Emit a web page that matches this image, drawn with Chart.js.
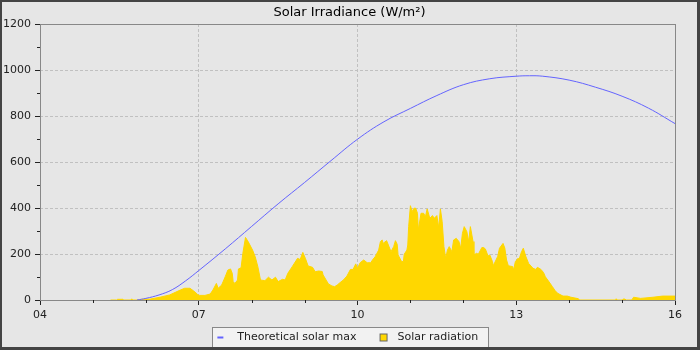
<!DOCTYPE html>
<html>
<head>
<meta charset="utf-8">
<title>Solar Irradiance</title>
<script src="https://cdn.jsdelivr.net/npm/chart.js@4.4.1/dist/chart.umd.min.js"></script>
<style>
  html, body { margin: 0; padding: 0; background: #444; }
  #frame {
    width: 700px; height: 350px; box-sizing: border-box;
    border: solid #444; border-width: 2px 3px 3px 2px;
    background: #e6e6e6;
  }
  canvas { display: block; }
</style>
</head>
<body>
<div id="frame"><canvas id="solarChart" width="695" height="345"></canvas></div>
<script>
// measured solar radiation (W/m²)
const radiationTimes = [
  '05:20','05:27','05:28','05:34','05:35','05:43','05:44','05:45','05:52','05:55',
  '06:05','06:16','06:27','06:39','06:44','06:50','06:54','06:57','06:59','07:01',
  '07:07','07:13','07:16','07:20','07:22','07:26','07:30','07:33','07:36','07:38',
  '07:39','07:41','07:44','07:45','07:48','07:50','07:53','07:55','07:56','08:01',
  '08:04','08:07','08:10','08:15','08:19','08:23','08:27','08:30','08:35','08:38',
  '08:41','08:46','08:52','08:55','08:58','09:01','09:04','09:09','09:12','09:16',
  '09:20','09:21','09:25','09:27','09:31','09:34','09:37','09:41','09:44','09:48',
  '09:52','09:55','09:58','10:00','10:03','10:07','10:11','10:15','10:17','10:20',
  '10:24','10:26','10:28','10:29','10:33','10:35','10:38','10:41','10:43','10:45',
  '10:46','10:50','10:52','10:53','10:56','10:57','10:58','11:00','11:02','11:04',
  '11:06','11:08','11:09','11:12','11:15','11:17','11:19','11:22','11:25','11:27',
  '11:30','11:32','11:34','11:36','11:38','11:40','11:42','11:44','11:47','11:49',
  '11:52','11:55','11:57','11:59','12:01','12:04','12:06','12:08','12:11','12:12',
  '12:15','12:17','12:21','12:23','12:25','12:28','12:30','12:33','12:34','12:39',
  '12:41','12:45','12:47','12:49','12:51','12:56','12:57','12:59','13:02','13:03',
  '13:06','13:08','13:11','13:14','13:19','13:22','13:24','13:28','13:31','13:33',
  '13:37','13:41','13:44','13:47','13:53','13:58','14:02','14:10','14:12','14:52',
  '14:53','14:55','15:00','15:01','15:03','15:05','15:11','15:13','15:21','15:35',
  '15:46','16:00'
];
const radiationValues = [
  0, 0, 3, 3, 0, 0, 5, 0, 0, 3,
  4, 12, 22, 43, 51, 51, 40, 30, 23, 20,
  20, 26, 43, 72, 51, 65, 101, 130, 135, 116,
  80, 72, 87, 135, 140, 203, 272, 260, 254, 217,
  188, 145, 87, 84, 99, 87, 99, 80, 90, 87,
  116, 145, 181, 176, 207, 180, 148, 142, 123, 126,
  124, 109, 83, 70, 61, 58, 65, 78, 87, 104,
  133, 133, 157, 138, 162, 174, 162, 162, 174, 188,
  217, 254, 261, 246, 258, 239, 210, 232, 258, 242,
  196, 167, 167, 199, 217, 239, 319, 410, 384, 399,
  399, 377, 304, 377, 377, 362, 396, 355, 367, 355,
  367, 314, 396, 341, 232, 181, 217, 232, 210, 261,
  268, 254, 225, 290, 319, 297, 254, 319, 254, 196,
  203, 199, 228, 228, 222, 191, 196, 167, 149, 190,
  225, 246, 226, 174, 149, 145, 130, 167, 181, 174,
  210, 225, 188, 159, 138, 133, 142, 133, 119, 101,
  80, 58, 41, 29, 17, 17, 12, 6, 0, 0,
  5, 0, 0, 4, 4, 0, 0, 12, 7, 12,
  17, 17
];

// theoretical clear-sky maximum (W/m²)
const theoryTimes = [
  '05:50','06:00','06:15','06:30','06:45','07:00','07:30','08:00','08:30','09:00',
  '09:30','10:00','10:30','11:00','11:30','12:00','12:30','13:00','13:15','13:30',
  '14:00','14:30','15:00','15:30','16:00'
];
const theoryValues = [
  0, 7, 22, 45, 83, 128, 222, 320, 418, 511,
  606, 699, 775, 833, 889, 936, 962, 973, 975, 973,
  956, 925, 886, 834, 767
];

const hourLabels = ['04', '07', '10', '13', '16'];

const toHours = t => {
  const [h, m] = t.split(':').map(Number);
  return h + m / 60;
};
const pad2 = v => (v < 10 ? '0' : '') + v;
const isMajorHour = v => hourLabels.includes(pad2(v));

const radiationPoints = radiationTimes.map((t, i) => ({ x: toHours(t), y: radiationValues[i] }));
const theoryPoints = theoryTimes.map((t, i) => ({ x: toHours(t), y: theoryValues[i] }));

// legend layout
const legendPadding = 10.5;
const legendBox = 25;

// small canvases used as legend symbols (drawn centred on the legend box)
function makeIcon(draw) {
  const c = document.createElement('canvas');
  c.width = 20;
  c.height = 12;
  draw(c.getContext('2d'));
  return c;
}
const lineIcon = makeIcon(g => {
  g.fillStyle = '#6464ff';
  g.fillRect(8, 5, 6, 2);
});
const boxIcon = makeIcon(g => {
  g.fillStyle = '#ffd700';
  g.fillRect(10, 2, 8, 8);
  g.strokeStyle = '#666';
  g.lineWidth = 1;
  g.strokeRect(10.5, 2.5, 7, 7);
});
const legendIcons = [lineIcon, boxIcon];

const framePlugin = {
  id: 'frame',
  afterLayout(chart) {
    // title is centred on the whole canvas, not on the padded width
    const t = chart.titleBlock;
    if (t) {
      t.left = 0;
      t.right = chart.width;
      t.width = chart.width;
    }
  },
  beforeDraw(chart) {
    const { ctx, width, height } = chart;
    ctx.save();
    ctx.fillStyle = '#e6e6e6';
    ctx.fillRect(0, 0, width, height);
    // legend box
    const boxes = chart.legend && chart.legend.legendHitBoxes;
    if (boxes && boxes.length) {
      const first = boxes[0], last = boxes[boxes.length - 1];
      const cy = first.top + 5.5;
      const x1 = Math.round(first.left + legendBox + 5.5 - 25) + 0.5;
      const x2 = Math.round(last.left + last.width + 10) + 0.5;
      const y1 = Math.round(cy - 10.5) + 0.5;
      const y2 = height + 2;
      ctx.fillStyle = '#f2f2f2';
      ctx.fillRect(x1, y1, x2 - x1, y2 - y1);
      ctx.strokeStyle = '#888';
      ctx.lineWidth = 1;
      ctx.strokeRect(x1, y1, x2 - x1, y2 - y1);
    }
    ctx.restore();
  },
  afterDatasetsDraw(chart) {
    const { ctx, chartArea: a } = chart;
    ctx.save();
    ctx.strokeStyle = '#888';
    ctx.lineWidth = 1;
    ctx.strokeRect(Math.round(a.left) + 0.5, Math.round(a.top) + 0.5,
      Math.round(a.right - a.left), Math.round(a.bottom - a.top));
    ctx.restore();
  },
  afterDraw(chart) {
    // minor tick marks
    const { ctx, chartArea: a, scales } = chart;
    ctx.save();
    ctx.strokeStyle = '#222';
    ctx.lineWidth = 1;
    ctx.beginPath();
    for (let h = 4; h <= 16; h++) {
      if (isMajorHour(h)) continue;
      const x = Math.round(scales.x.getPixelForValue(h)) + 0.5;
      ctx.moveTo(x, a.bottom);
      ctx.lineTo(x, a.bottom + 3);
    }
    for (let v = 100; v < 1200; v += 200) {
      const y = Math.round(scales.y.getPixelForValue(v)) + 0.5;
      ctx.moveTo(a.left - 3, y);
      ctx.lineTo(a.left, y);
    }
    ctx.stroke();
    ctx.restore();
  }
};

Chart.defaults.font.family = 'DejaVu Sans';
Chart.defaults.font.size = 11;
Chart.defaults.color = '#222';

const ctx = document.getElementById('solarChart').getContext('2d');
const solarChart = new Chart(ctx, {
  type: 'line',
  data: {
    datasets: [{
      label: 'Theoretical solar max',
      data: theoryPoints,
      borderColor: '#6464ff',
      borderWidth: 1,
      pointRadius: 0,
      fill: false,
      tension: 0.4,
      order: 0
    }, {
      label: 'Solar radiation',
      data: radiationPoints,
      borderColor: '#ffd700',
      backgroundColor: '#ffd700',
      borderWidth: 1,
      pointRadius: 0,
      fill: 'origin',
      tension: 0,
      order: 1
    }]
  },
  options: {
    responsive: false,
    devicePixelRatio: 1,
    animation: false,
    layout: { padding: { left: 0, right: 14, top: 0, bottom: -6 } },
    scales: {
      x: {
        type: 'linear',
        min: 4,
        max: 16,
        // keep plot bottom fixed whatever the legend height
        afterFit: s => { s.height = 32 - legendPadding; },
        ticks: {
          stepSize: 1,
          autoSkip: false,
          maxRotation: 0,
          padding: 4,
          callback: v => (isMajorHour(v) ? pad2(v) : '')
        },
        grid: {
          tickLength: 5,
          color: c => (c.tick && isMajorHour(c.tick.value) && c.tick.value !== 4 && c.tick.value !== 16
            ? '#c0c0c0' : 'rgba(0,0,0,0)'),
          tickColor: c => (c.tick && isMajorHour(c.tick.value) ? '#222' : 'rgba(0,0,0,0)')
        },
        border: { display: false, dash: [3, 2] }
      },
      y: {
        min: 0,
        max: 1200,
        afterFit: s => { s.width = 38; },
        ticks: {
          stepSize: 100,
          autoSkip: false,
          padding: 4,
          callback: v => (v % 200 === 0 ? String(v) : '')
        },
        grid: {
          tickLength: 5,
          color: c => (c.tick && c.tick.value % 200 === 0 && c.tick.value !== 0 && c.tick.value !== 1200
            ? '#c0c0c0' : 'rgba(0,0,0,0)'),
          tickColor: c => (c.tick && c.tick.value % 200 === 0 ? '#222' : 'rgba(0,0,0,0)')
        },
        border: { display: false, dash: [3, 2] }
      },
      yPad: {
        position: 'right',
        display: true,
        afterFit: s => { s.width = 8; },
        ticks: { display: false },
        grid: { display: false, drawTicks: false },
        border: { display: false }
      }
    },
    plugins: {
      title: {
        display: true,
        text: 'Solar Irradiance (W/m²)',
        color: '#000',
        font: { size: 13, weight: 'normal' },
        padding: { top: 3, bottom: 3.4 }
      },
      legend: {
        position: 'bottom',
        labels: {
          usePointStyle: true,
          pointStyleWidth: legendBox,
          boxHeight: 11,
          padding: legendPadding,
          color: '#222',
          generateLabels: chart => chart.data.datasets.map((ds, i) => ({
            text: ds.label,
            pointStyle: legendIcons[i],
            fillStyle: ds.backgroundColor || ds.borderColor,
            strokeStyle: ds.borderColor,
            lineWidth: 0,
            hidden: false,
            datasetIndex: i,
            fontColor: '#222'
          }))
        }
      },
      tooltip: { enabled: false }
    }
  },
  plugins: [framePlugin]
});
</script>
</body>
</html>
